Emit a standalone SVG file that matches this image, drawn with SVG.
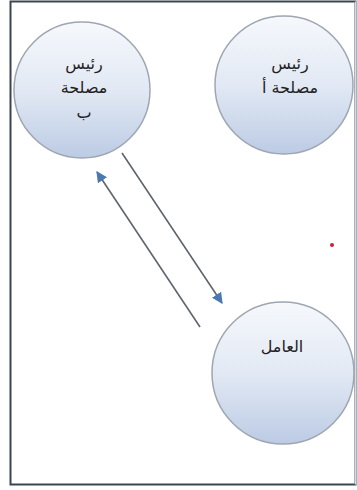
<svg xmlns="http://www.w3.org/2000/svg" width="357" height="490" viewBox="0 0 357 490">
<style>
.node{fill:url(#g);stroke:#9ea6b2;stroke-width:1.5}
.t{font-family:"DejaVu Sans","Noto Sans",sans-serif;font-size:16px;fill:#222;text-anchor:middle}
.c{stroke:#5f6570;stroke-width:1.6;fill:none}
</style>
<defs>
<linearGradient id="g" x1="0" y1="0" x2="0" y2="1">
<stop offset="0" stop-color="#f6f8fc"/>
<stop offset="0.5" stop-color="#e2e9f4"/>
<stop offset="1" stop-color="#bccbe4"/>
</linearGradient>
<marker id="ah" viewBox="0 0 10 10" refX="9" refY="5" markerWidth="11" markerHeight="11" markerUnits="userSpaceOnUse" orient="auto">
<path d="M0,0 L10,5 L0,10 z" fill="#4a78b0"/>
</marker>
</defs>
<rect x="0" y="0" width="357" height="490" fill="#ffffff"/>
<rect x="10.5" y="1.5" width="345" height="483" fill="#ffffff" stroke="#3c4452" stroke-width="2"/>
<line x1="355.5" y1="1.5" x2="355.5" y2="484.5" stroke="#d8dce2" stroke-width="1.5"/>
<g id="node-b">
<circle class="node" cx="82" cy="90" r="68"/>
<text class="t" x="84" y="69">رئيس</text>
<text class="t" x="84" y="93">مصلحة</text>
<text class="t" x="84" y="118">ب</text>
</g>
<g id="node-a">
<circle class="node" cx="284" cy="85" r="69"/>
<text class="t" x="290" y="69">رئيس</text>
<text class="t" x="290" y="93">مصلحة أ</text>
</g>
<g id="node-worker">
<circle class="node" cx="283" cy="373" r="71"/>
<text class="t" x="282" y="352">العامل</text>
</g>
<g id="connectors">
<line class="c" x1="122" y1="153" x2="222" y2="303" marker-end="url(#ah)"/>
<line class="c" x1="200" y1="327" x2="97" y2="172" marker-end="url(#ah)"/>
</g>
<circle cx="332" cy="245" r="2" fill="#c0283a"/>
</svg>
